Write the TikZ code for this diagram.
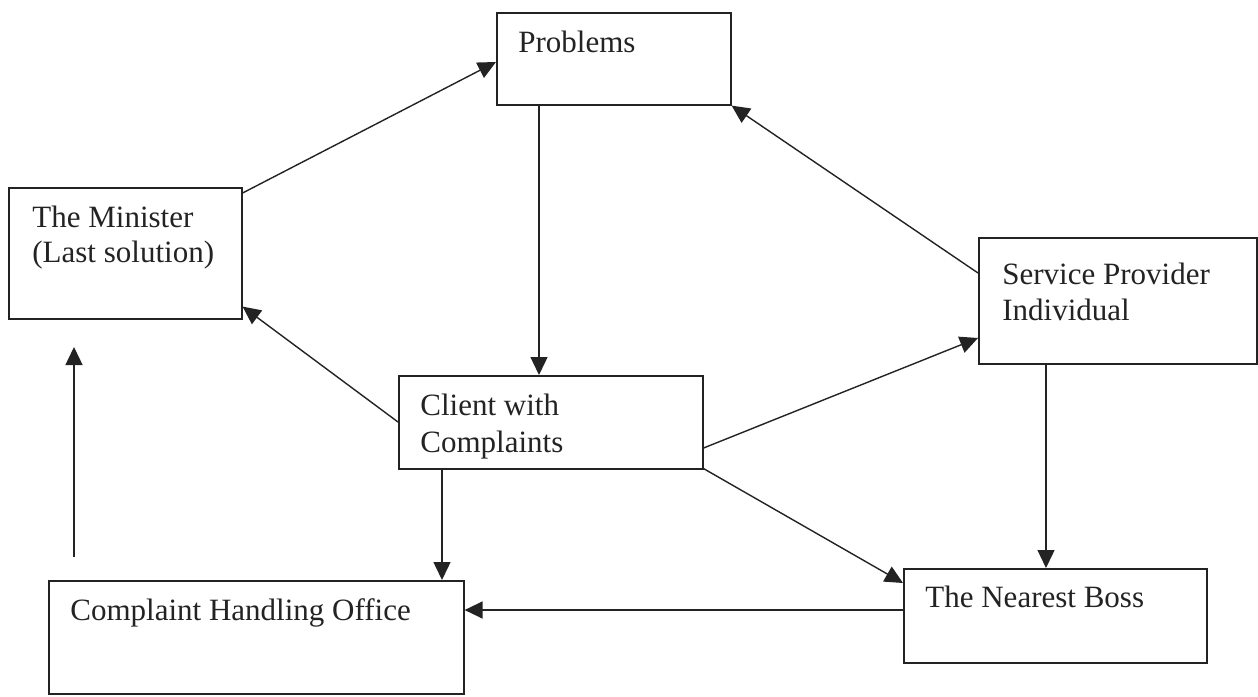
\documentclass[tikz,border=0pt]{standalone}
\usepackage{fontspec}
\setmainfont{Liberation Serif}
\usetikzlibrary{arrows.meta,calc}
\definecolor{ink}{RGB}{35,35,35}
\begin{document}
\begin{tikzpicture}[x=0.5pt,y=-0.5pt,
  box/.style={draw=ink,line width=0.8pt,inner sep=0pt,anchor=north west},
  lbl/.style={anchor=base west,inner sep=0pt,font=\fontsize{15.5}{18}\selectfont,text=ink},
  conn/.style={draw=ink,line width=0.7pt,-{Triangle[length=9pt,width=8.5pt]}}]
\fill[white] (0,0) rectangle (1258,696);
% boxes
\node[box,minimum width=117pt,minimum height=46pt] (prob) at (496,12) {};
\node[box,minimum width=116.5pt,minimum height=65.5pt] (min) at (8,187) {};
\node[box,minimum width=139pt,minimum height=63pt] (sp) at (978,237) {};
\node[box,minimum width=152pt,minimum height=46.5pt] (cli) at (398,375) {};
\node[box,minimum width=207.5pt,minimum height=56.5pt] (cho) at (48,580) {};
\node[box,minimum width=151.5pt,minimum height=47pt] (boss) at (903,568) {};
% labels
\node[lbl] (tprob) at (518,52) {Problems};
\node[lbl] (tmin1) at (32,227) {The Minister};
\node[lbl] (tmin2) at (32,262) {(Last solution)};
\node[lbl] (tsp1) at (1002,284) {Service Provider};
\node[lbl] (tsp2) at (1002,320) {Individual};
\node[lbl] (tcli1) at (420,415) {Client with};
\node[lbl] (tcli2) at (420,452) {Complaints};
\node[lbl] (tcho) at (70,620) {Complaint Handling Office};
\node[lbl] (tboss) at (925,607) {The Nearest Boss};
% connectors
\draw[conn] ($(min.north east)+(0,6)$) -- ($(prob.north west)+(0,50)$);
\draw[conn] ($(prob.south west)+(43,0)$) -- ($(cli.north west)+(141,0)$);
\draw[conn] ($(sp.north west)+(0,36)$) -- (prob.south east);
\draw[conn] ($(cli.north west)+(0,47)$) -- ($(min.south east)+(0,-13)$);
\draw[conn] ($(cli.north east)+(0,73)$) -- ($(sp.north west)+(0,101)$);
\draw[conn] ($(sp.south west)+(68,0)$) -- ($(boss.north west)+(143,0)$);
\draw[conn] ($(cli.south east)+(0,-1)$) -- ($(boss.north west)+(0,15)$);
\draw[conn] ($(cli.south west)+(44,0)$) -- ($(cho.north west)+(394,0)$);
\draw[conn] ($(boss.north west)+(0,42)$) -- ($(cho.north east)+(0,30)$);
\coordinate (fa) at (74,557);
\coordinate (fb) at (74,347);
\draw[conn] (fa) -- (fb);
\end{tikzpicture}
\end{document}
